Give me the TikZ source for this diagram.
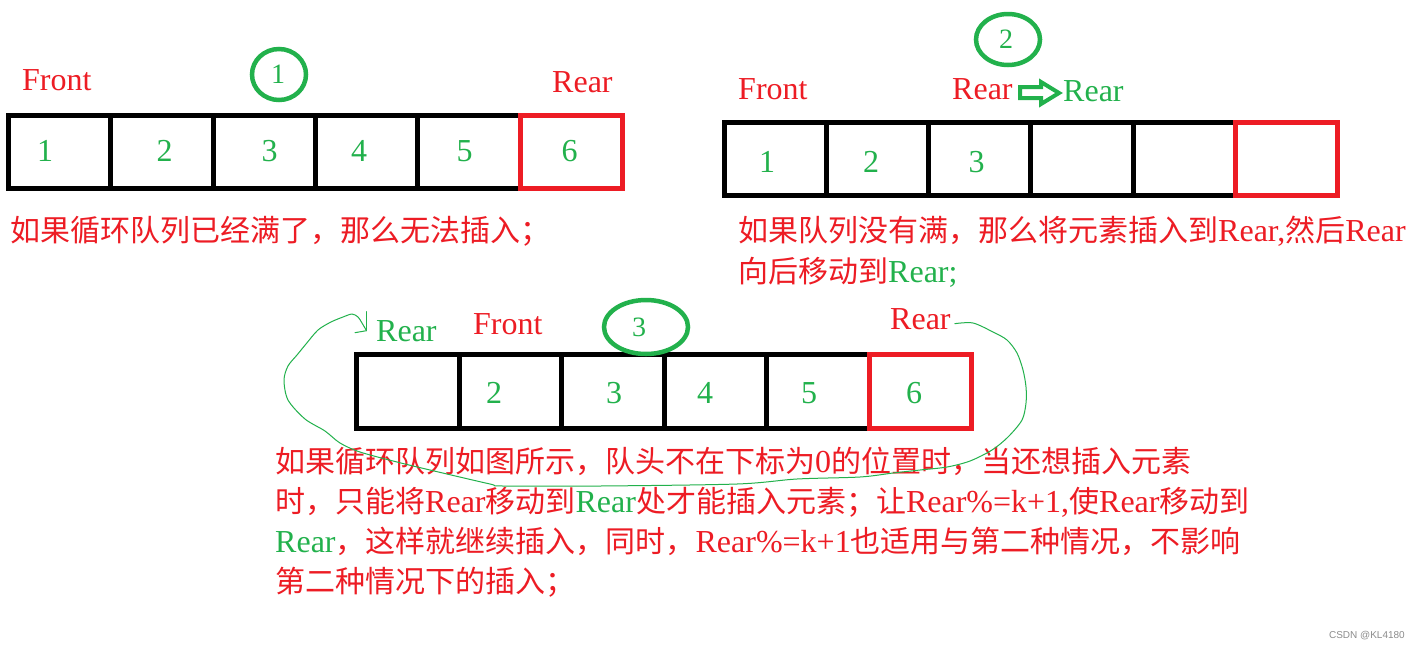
\documentclass[tikz,border=0pt]{standalone}
\usepackage{fontspec}
\setmainfont{Liberation Serif}
\newfontfamily\cjkfont{Noto Sans CJK SC}
\newfontfamily\wmfont{Liberation Sans}
\usetikzlibrary{shapes.geometric}
\definecolor{pgreen}{RGB}{34,177,76}
\definecolor{pred}{RGB}{237,28,36}
\newcommand\zh[1]{{\cjkfont\fontsize{30}{30}\selectfont #1}}
\tikzset{
  cellbox/.style={draw=black, line width=5pt, minimum height=73pt, inner sep=0pt, line join=miter},
  redcell/.style={cellbox, draw=pred},
  lbl/.style={inner sep=0pt, anchor=base west, font=\fontsize{32}{36}\selectfont},
  redlbl/.style={lbl, text=pred},
  grnlbl/.style={lbl, text=pgreen},
  num/.style={inner sep=0pt, anchor=center, text=pgreen, font=\fontsize{32}{36}\selectfont},
  ring/.style={draw=pgreen, line width=4.5pt, ellipse, inner sep=0pt},
  ringnum/.style={inner sep=0pt, anchor=center, text=pgreen, font=\fontsize{28}{30}\selectfont},
  txt/.style={inner sep=0pt, anchor=base west, text=pred, font=\fontsize{32}{36}\selectfont},
  curve/.style={draw=pgreen, line width=1pt, line join=round, line cap=round},
  blockarrow/.style={draw=pgreen, line width=4pt, line join=miter, fill=white}
}
\begin{document}
\begin{tikzpicture}[x=1pt,y=-1pt]
\useasboundingbox[fill=white] (0,0) rectangle (1420,651);

% ---------- top-left queue ----------
\foreach \i in {1,...,5}
  \node[cellbox, minimum width=102.37pt] (a\i) at ({8.5+102.37*(\i-0.5)},151.5) {};
\node[redcell, minimum width=102.37pt] (a6) at ({8.5+102.37*5.5},151.5) {};
\node[num] (na1) at (45,151) {1};
\node[num] (na2) at (164.5,151) {2};
\node[num] (na3) at (269.5,151) {3};
\node[num] (na4) at (359,151) {4};
\node[num] (na5) at (464.5,151) {5};
\node[num] (na6) at (569.5,151) {6};
\node[redlbl] (f1) at (22,90) {Front};
\node[redlbl] (r1) at (552,92) {Rear};
\node[ring, minimum width=54pt, minimum height=51pt] (c1) at (279,74.5) {};
\node[ringnum] (c1n) at (278,74.5) {1};
\node[txt] (t1) at (10,241) {\zh{如果循环队列已经满了，那么无法插入；}};

% ---------- top-right queue ----------
\foreach \i in {1,...,5}
  \node[cellbox, minimum width=102.25pt] (b\i) at ({724+102.25*(\i-0.5)},159) {};
\node[redcell, minimum width=102.25pt] (b6) at ({724+102.25*5.5},159) {};
\node[num] (nb1) at (767,162) {1};
\node[num] (nb2) at (871,162) {2};
\node[num] (nb3) at (976.5,162) {3};
\node[redlbl] (f2) at (738,99) {Front};
\node[redlbl] (r2) at (952,99) {Rear};
\node[grnlbl] (g2) at (1063,101) {Rear};
\draw[blockarrow] (1020,87) -- (1041,87) -- (1041,82) -- (1059,93) -- (1041,104) -- (1041,98) -- (1020,98) -- cycle;
\node[ring, minimum width=64pt, minimum height=51pt] (c2) at (1008,39.5) {};
\node[ringnum] (c2n) at (1006,39) {2};
\node[txt] (t2) at (738,241) {\zh{如果队列没有满，那么将元素插入到}Rear,\zh{然后}Rear};
\node[txt] (t3) at (738,282) {\zh{向后移动到}{\color{pgreen}Rear;}};

% ---------- bottom queue ----------
\foreach \i in {1,...,5}
  \node[cellbox, minimum width=102.53pt, minimum height=73.5pt] (d\i) at ({356.5+102.53*(\i-0.5)},391.25) {};
\node[redcell, minimum width=102.53pt, minimum height=73.5pt] (d6) at ({356.5+102.53*5.5},391.25) {};
\node[num] (nd2) at (494,393) {2};
\node[num] (nd3) at (614,393) {3};
\node[num] (nd4) at (705,393) {4};
\node[num] (nd5) at (809,393) {5};
\node[num] (nd6) at (914,393) {6};
\node[grnlbl] (g3) at (376,341) {Rear};
\node[redlbl] (f3) at (473,334) {Front};
\node[redlbl] (r3) at (890,329) {Rear};
\node[ring, minimum width=84pt, minimum height=54pt] (c3) at (646,327) {};
\node[ringnum] (c3n) at (639,327.5) {3};

\node[txt] (t4) at (275,472) {\zh{如果循环队列如图所示，队头不在下标为}0\zh{的位置时，当还想插入元素}};
\node[txt] (t5) at (275,512) {\zh{时，只能将}Rear\zh{移动到}{\color{pgreen}Rear}\zh{处才能插入元素；让}Rear\%=k+1,\zh{使}Rear\zh{移动到}};
\node[txt] (t6) at (275,552) {{\color{pgreen}Rear}\zh{，这样就继续插入，同时，}Rear\%=k+1\zh{也适用与第二种情况，不影响}};
\node[txt] (t7) at (275,592) {\zh{第二种情况下的插入；}};

% ---------- hand-drawn wrap-around arrow ----------
\coordinate (tip) at ([xshift=-9.5pt]g3.west);
\draw[curve] plot[smooth, tension=0.5] coordinates {
  ([xshift=4pt,yshift=-5pt]r3.east) (973,323) (993,332) (1007,340) (1017,353) (1023,370)
  (1026,387) (1026,403) (1022,420) (1008,437) (992,450) (970,461) (947,467)
  (920,470) (893,473) (860,477) (797,479) (737,484) (600,486) (503,486) (490,484)
  (430,470) (397,462) (360,452) (340,443) (325,431) (305,419) (288,400)
  (284,380) (288,366) (297,355) (306,344) (318,330) (331,322) (343,317)
  (352,314) (358,317) (362,323) (tip)};
\draw[curve] (tip) -- ++(0,-19);
\draw[curve] (tip) -- ++(-11.5,2);

% ---------- watermark ----------
\node[inner sep=0pt, anchor=east, text=black!45, font=\wmfont\fontsize{10}{12}\selectfont] (wm) at (1405,636) {CSDN @KL4180};
\end{tikzpicture}
\end{document}
